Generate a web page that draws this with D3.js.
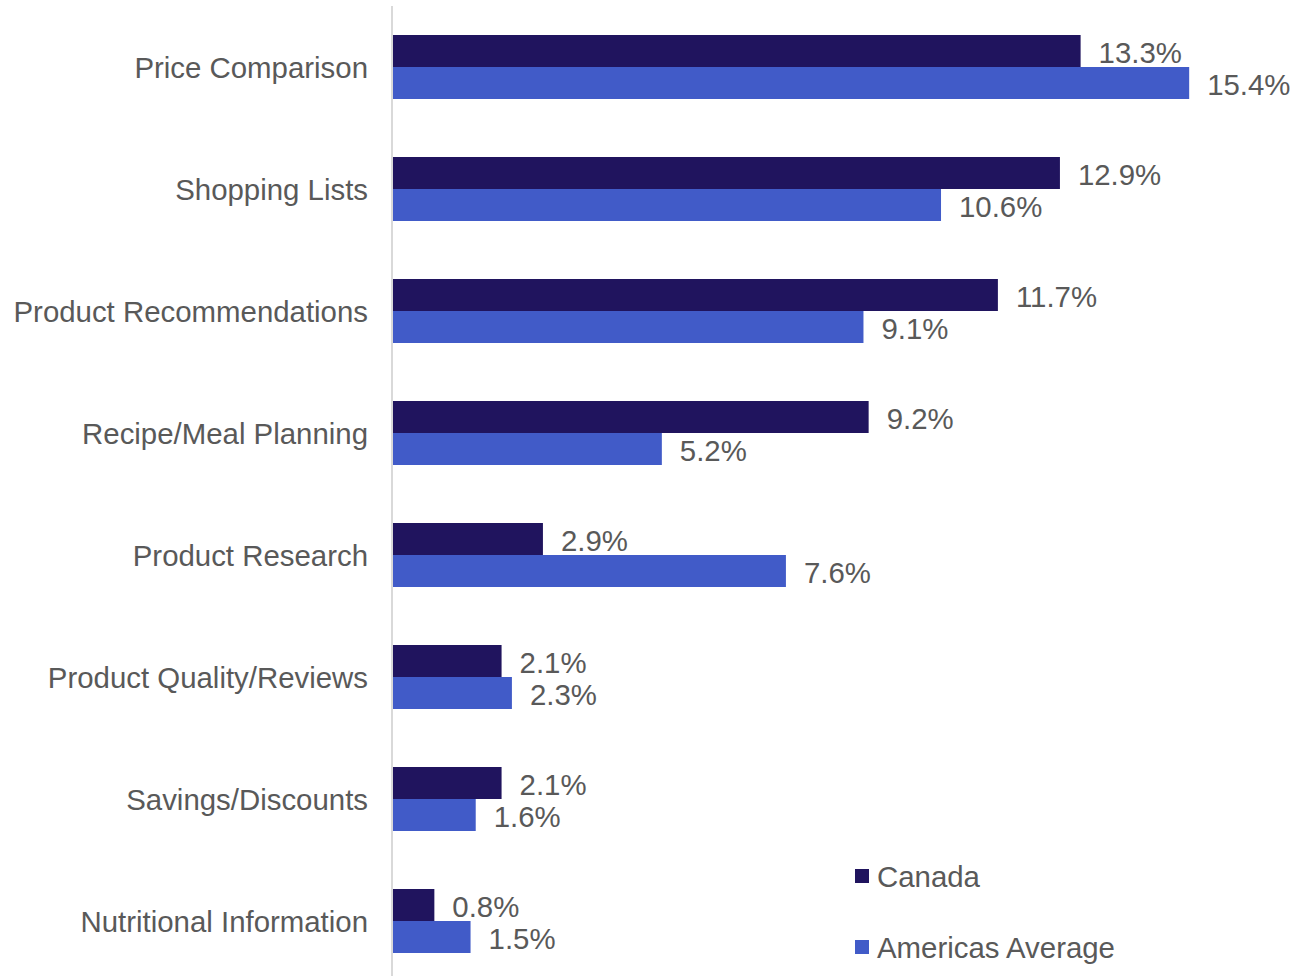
<!DOCTYPE html>
<html>
<head>
<meta charset="utf-8">
<script src="https://cdn.jsdelivr.net/npm/d3@7"></script>
<style>
  html, body { margin: 0; padding: 0; background: #ffffff; }
  svg { display: block; font-family: "Liberation Sans", Arial, sans-serif; }
</style>
</head>
<body>
<svg id="chart" width="1293" height="976"></svg>
<script>
// Categories, top to bottom
const categories = [
  "Price Comparison",
  "Shopping Lists",
  "Product Recommendations",
  "Recipe/Meal Planning",
  "Product Research",
  "Product Quality/Reviews",
  "Savings/Discounts",
  "Nutritional Information"
];
const seriesNames = ["Canada", "Americas Average"];
const canadaValues = [13.3, 12.9, 11.7, 9.2, 2.9, 2.1, 2.1, 0.8];
const americasValues = [15.4, 10.6, 9.1, 5.2, 7.6, 2.3, 1.6, 1.5];

const colors = { "Canada": "#20145e", "Americas Average": "#415bc8" };
const textColor = "#595959";
const fontSize = 29.4;

const svg = d3.select("#chart");

// Plot region
const plotLeft = 393, pxPerUnit = 51.7;
const plotTop = 6, plotBottom = 982;

const x = d3.scaleLinear().domain([0, 1]).range([plotLeft, plotLeft + pxPerUnit]);
const y = d3.scaleBand().domain(categories).range([plotTop, plotBottom]).padding(0);
const inner = d3.scaleBand().domain(seriesNames).range([29, 93]).padding(0);

const rows = categories.map((c, i) => ({
  category: c,
  values: [
    { series: "Canada", value: canadaValues[i] },
    { series: "Americas Average", value: americasValues[i] }
  ]
}));

// Category axis line
svg.append("line")
  .attr("x1", plotLeft - 1).attr("x2", plotLeft - 1)
  .attr("y1", plotTop).attr("y2", plotBottom)
  .attr("stroke", "#d9d9d9").attr("stroke-width", 2);

const groups = svg.selectAll("g.row")
  .data(rows)
  .join("g")
  .attr("class", "row")
  .attr("transform", d => `translate(0,${y(d.category)})`);

groups.selectAll("rect")
  .data(d => d.values)
  .join("rect")
  .attr("x", x(0))
  .attr("y", d => inner(d.series))
  .attr("width", d => x(d.value) - x(0))
  .attr("height", inner.bandwidth())
  .attr("fill", d => colors[d.series]);

// Value labels
groups.selectAll("text.value")
  .data(d => d.values)
  .join("text")
  .attr("class", "value")
  .attr("x", d => x(d.value) + 18)
  .attr("y", d => inner(d.series) + inner.bandwidth() / 2 + 2)
  .attr("dy", "0.35em")
  .attr("fill", textColor)
  .attr("font-size", fontSize)
  .text(d => d.value.toFixed(1) + "%");

// Category labels
groups.append("text")
  .attr("x", 368)
  .attr("y", 62)
  .attr("dy", "0.35em")
  .attr("text-anchor", "end")
  .attr("fill", textColor)
  .attr("font-size", fontSize)
  .text(d => d.category);

// Legend
const legend = svg.append("g").attr("transform", "translate(855,869)");
const items = legend.selectAll("g")
  .data(seriesNames)
  .join("g")
  .attr("transform", (d, i) => `translate(0,${i * 71})`);
items.append("rect")
  .attr("width", 14).attr("height", 14)
  .attr("fill", d => colors[d]);
items.append("text")
  .attr("x", 22).attr("y", 8)
  .attr("dy", "0.35em")
  .attr("fill", textColor)
  .attr("font-size", fontSize)
  .text(d => d);
</script>
</body>
</html>
